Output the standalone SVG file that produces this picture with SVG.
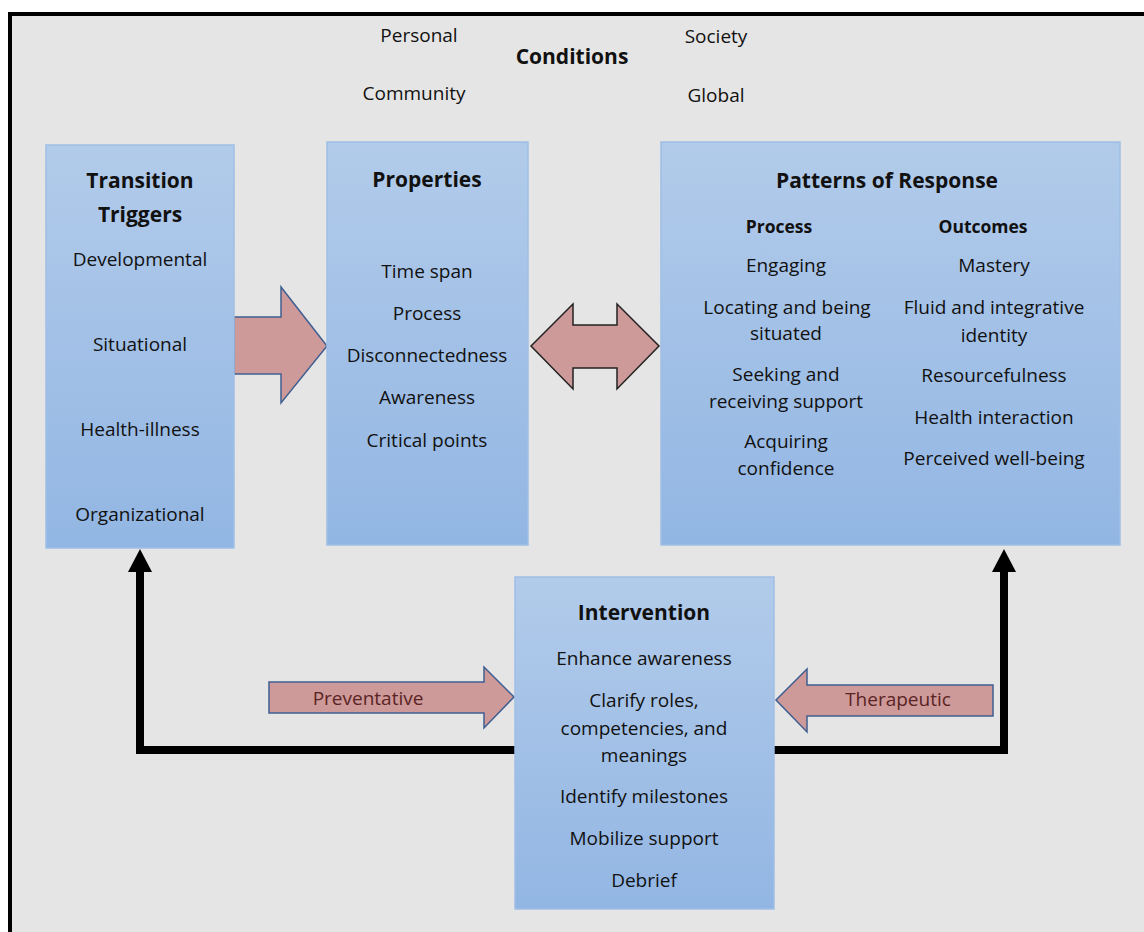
<svg xmlns="http://www.w3.org/2000/svg" width="1144" height="932" viewBox="0 0 1144 932">
<defs>
<linearGradient id="boxg" x1="0" y1="0" x2="0" y2="1">
<stop offset="0" stop-color="#b2cbea"/>
<stop offset="1" stop-color="#92b6e3"/>
</linearGradient>
<style>
.box{fill:url(#boxg);stroke:#9fbfe6;stroke-width:1.5}
text{font-family:"Open Sans","Liberation Sans",sans-serif;fill:#111;text-anchor:middle}
.t{font-size:19px}
.h{font-size:21px;font-weight:bold}
.s{font-size:17.5px;font-weight:bold}
.blk{fill:#cd9999;stroke:#3f5f91;stroke-width:1.5;stroke-linejoin:miter}
.dbl{fill:#cd9999;stroke:#222;stroke-width:1.5}
.fb{fill:none;stroke:#000;stroke-width:8;stroke-linejoin:miter}
.lbl{font-size:19px;fill:#5a2424}
</style>
</defs>
<rect width="1144" height="932" fill="#fff"/>
<rect x="10" y="14" width="1140" height="930" fill="#e5e5e5" stroke="#000" stroke-width="4"/>

<g id="conditions">
<text class="t" x="419" y="42">Personal</text>
<text class="t" x="716" y="43">Society</text>
<text class="h" x="572" y="64">Conditions</text>
<text class="t" x="414" y="100">Community</text>
<text class="t" x="716" y="102">Global</text>
</g>

<g id="connectors">
<path class="fb" d="M140,572 V750 H516"/>
<polygon points="140,549 128,572 152,572" fill="#000"/>
<path class="fb" d="M773,750 H1004 V572"/>
<polygon points="1004,549 992,572 1016,572" fill="#000"/>
<polygon class="blk" points="234,317 281,317 281,287 327,346 281,403 281,374 234,374"/>
<polygon class="dbl" points="531,346 573,304 573,325 617,325 617,304 659,346 617,389 617,368 573,368 573,389"/>
<polygon class="blk" points="269,682 484,682 484,667 514,697 484,728 484,713 269,713"/>
<text class="lbl" x="368" y="705">Preventative</text>
<polygon class="blk" points="993,685 807,685 807,669 776,700 807,732 807,716 993,716"/>
<text class="lbl" x="898" y="706">Therapeutic</text>
</g>

<g id="triggers">
<rect class="box" x="46" y="145" width="188" height="403"/>
<text class="h" x="140" y="188">Transition</text>
<text class="h" x="140" y="222">Triggers</text>
<text class="t" x="140" y="266">Developmental</text>
<text class="t" x="140" y="351">Situational</text>
<text class="t" x="140" y="436">Health-illness</text>
<text class="t" x="140" y="521">Organizational</text>
</g>

<g id="properties">
<rect class="box" x="327" y="142" width="201" height="403"/>
<text class="h" x="427" y="187">Properties</text>
<text class="t" x="427" y="278">Time span</text>
<text class="t" x="427" y="320">Process</text>
<text class="t" x="427" y="362">Disconnectedness</text>
<text class="t" x="427" y="404">Awareness</text>
<text class="t" x="427" y="447">Critical points</text>
</g>

<g id="patterns">
<rect class="box" x="661" y="142" width="459" height="403"/>
<text class="h" x="887" y="188">Patterns of Response</text>
<text class="s" x="779" y="233">Process</text>
<text class="s" x="983" y="233">Outcomes</text>
<text class="t" x="786" y="272">Engaging</text>
<text class="t" x="787" y="314">Locating and being</text>
<text class="t" x="786" y="340">situated</text>
<text class="t" x="786" y="381">Seeking and</text>
<text class="t" x="786" y="408">receiving support</text>
<text class="t" x="786" y="448">Acquiring</text>
<text class="t" x="786" y="475">confidence</text>
<text class="t" x="994" y="272">Mastery</text>
<text class="t" x="994" y="314">Fluid and integrative</text>
<text class="t" x="994" y="342">identity</text>
<text class="t" x="994" y="382">Resourcefulness</text>
<text class="t" x="994" y="424">Health interaction</text>
<text class="t" x="994" y="465">Perceived well-being</text>
</g>

<g id="intervention">
<rect class="box" x="515" y="577" width="259" height="332"/>
<text class="h" x="644" y="620">Intervention</text>
<text class="t" x="644" y="665">Enhance awareness</text>
<text class="t" x="644" y="707">Clarify roles,</text>
<text class="t" x="644" y="735">competencies, and</text>
<text class="t" x="644" y="762">meanings</text>
<text class="t" x="644" y="803">Identify milestones</text>
<text class="t" x="644" y="845">Mobilize support</text>
<text class="t" x="644" y="887">Debrief</text>
</g>
</svg>
